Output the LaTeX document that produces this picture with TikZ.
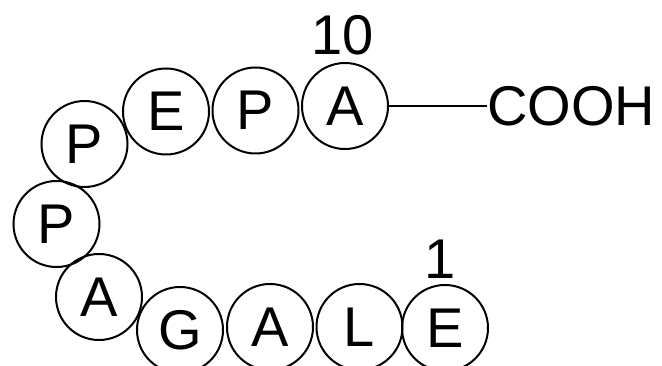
\documentclass[tikz,border=0pt]{standalone}
\usepackage{fontspec}
\setmainfont{Liberation Sans}
\begin{document}
\begin{tikzpicture}[x=1pt,y=-1pt,
  res/.style={circle,draw,line width=2pt,minimum size=86pt,inner sep=0pt,font=\fontsize{56}{60}\selectfont},
  lbl/.style={inner sep=0pt,font=\fontsize{56}{60}\selectfont}]
\useasboundingbox (0,0) rectangle (662,366);
\node[res] (a10) at (345,106) {A};
\node[res] (p9) at (255.5,110.5) {P};
\node[res] (e8) at (166,111.5) {E};
\node[res] (p7) at (84.5,144) {P};
\node[res] (p6) at (56.5,224) {P};
\node[res] (a5) at (99,297) {A};
\node[res] (g4) at (180,330) {G};
\node[res] (a3) at (270,327) {A};
\node[res] (l2) at (359.5,327) {L};
\node[res] (e1) at (445,328) {E};
\node[lbl] (n10) at (343,35) {10};
\node[lbl] (n1) at (440,259) {1};
\node[lbl,anchor=west] (cooh) at (487,106) {COOH};
\draw[line width=2pt] (a10.east) -- (cooh.west);
\end{tikzpicture}
\end{document}
